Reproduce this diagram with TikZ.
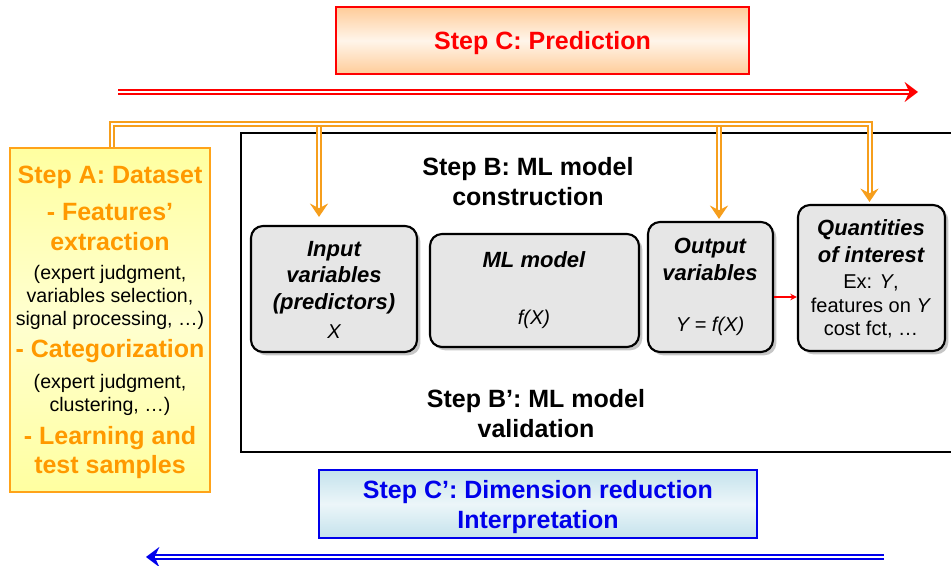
\documentclass[tikz,border=0pt]{standalone}
\usepackage{fontspec}
\setmainfont{Liberation Sans}
\usetikzlibrary{arrows.meta,shadows}
\definecolor{stepred}{RGB}{255,0,0}
\definecolor{peach}{RGB}{255,204,153}
\definecolor{peachlight}{RGB}{255,245,234}
\definecolor{stepblue}{RGB}{0,0,235}
\definecolor{iceblue}{RGB}{196,226,236}
\definecolor{icelight}{RGB}{236,246,249}
\definecolor{steporange}{RGB}{255,153,0}
\definecolor{lineorange}{RGB}{246,158,28}
\definecolor{paleyellow}{RGB}{255,255,160}
\definecolor{creamyellow}{RGB}{255,255,208}
\definecolor{boxgray}{RGB}{230,230,230}

\begin{document}
\begin{tikzpicture}[x=0.75pt, y=-0.75pt,
    bigfont/.style={font=\fontsize{18.75}{22.5}\selectfont\bfseries, align=center, inner sep=0pt},
    smallfont/.style={font=\fontsize{14.7}{17.6}\selectfont, align=center, inner sep=0pt},
    boxtitle/.style={font=\fontsize{16.5}{19.9}\selectfont\bfseries\itshape, align=center, inner sep=0pt},
    boxsub/.style={font=\fontsize{15}{17.6}\selectfont, align=center, inner sep=0pt},
    mlbox/.style={draw, line width=1.6pt, rounded corners=9pt, fill=boxgray, inner sep=0pt,
        drop shadow={shadow xshift=2.5pt, shadow yshift=-2.5pt, opacity=.45}},
    dblline/.style={double=white, double distance=1.5pt, line width=1.5pt}]
\useasboundingbox (0,0) rectangle (951,566);

% step C and C'
\node[draw=stepred, line width=1.6pt, top color=peach, bottom color=peach, middle color=peachlight,
    minimum width=309.75pt, minimum height=50.25pt, bigfont, text=stepred, text depth=0pt] (stepC) at (542.5,40.5) {Step C: Prediction};
\node[draw=stepblue, line width=1.6pt, top color=iceblue, bottom color=iceblue, middle color=icelight,
    minimum width=328.5pt, minimum height=51pt, bigfont, text=stepblue, text depth=0pt] (stepCp) at (538,504) {Step C’: Dimension reduction\\Interpretation};

\coordinate (redL) at (118,92);
\coordinate (redR) at (918,92);
\draw[dblline, draw=stepred, -{Stealth[length=10pt, width=15pt, inset=3.5pt]}] (redL) -- (redR);
\coordinate (blueR) at (884,557);
\coordinate (blueL) at (146,557);
\draw[dblline, draw=stepblue, -{Stealth[length=10pt, width=15pt, inset=3.5pt]}] (blueR) -- (blueL);

% step A
\node[draw=steporange!90, line width=1.6pt, top color=paleyellow, bottom color=paleyellow, middle color=creamyellow,
    minimum width=150pt, minimum height=258pt] (stepA) at (110,320) {};
\foreach \yy/\txt in {177/{Step A: Dataset}, 212/{- Features’}, 242/{extraction}, 351/{- Categorization}, 438/{- Learning and}, 467/{test samples}}
    \node[bigfont, text=steporange] (dsA\yy) at (110,\yy) {\txt};
\foreach \yy/\txt in {274/{(expert judgment,}, 297/{variables selection,}, 320/{signal processing, …)}, 383/{(expert judgment,}, 406/{clustering, …)}}
    \node[smallfont] (dsB\yy) at (110,\yy) {\txt};

% step B frame
\draw[line width=1.5pt] (952,133) -- (241,133) -- (241,452) -- (952,452);
\node[bigfont] (stepB) at (528,182) {Step B: ML model\\construction};
\node[bigfont] (stepBp) at (536,414) {Step B’: ML model\\validation};

% model boxes
\node[mlbox, minimum width=124.5pt, minimum height=94.5pt] (input) at (334,289) {};
\node[mlbox, minimum width=156.75pt, minimum height=84.75pt] (model) at (534.5,290.5) {};
\node[mlbox, minimum width=93.75pt, minimum height=97.5pt] (output) at (710.5,287) {};
\node[mlbox, minimum width=110.25pt, minimum height=109.5pt] (quant) at (871.5,278) {};

\node[boxtitle] (inT) at (334,277.5) {Input\\variables\\(predictors)};
\node[boxsub] (inS) at (334,332) {\itshape X};
\node[boxtitle] (mlT) at (534,260) {ML model};
\node[boxsub] (mlS) at (534,319.5) {\itshape f(X)};
\node[boxtitle] (outT) at (710,259.5) {Output\\variables};
\node[boxsub] (outS) at (710,326) {\itshape Y = f(X)};
\node[boxtitle] (qT) at (871,241) {Quantities\\of interest};
\node[boxsub] (qS) at (871,306.5) {Ex: \textit{Y},\\features on \textit{Y}\\cost fct, …};

\coordinate (ry) at (0,297);
\draw[stepred, line width=1.1pt, -{Stealth[length=5pt, width=5pt]}] (output.east |- ry) -- (quant.west |- ry);

% orange feed lines
\coordinate (busL) at (111.5,124);
\coordinate (busIn) at (319,124);
\coordinate (busOut) at (719,124);
\coordinate (busR) at (869.5,124);
\draw[dblline, draw=lineorange, -{Stealth[length=10pt, width=13.5pt, inset=3.5pt]}, shorten >=6pt] (busIn) -- (busIn |- input.north);
\draw[dblline, draw=lineorange, -{Stealth[length=10pt, width=13.5pt, inset=3.5pt]}, shorten >=1.5pt] (busOut) -- (busOut |- output.north);
\draw[dblline, draw=lineorange, -{Stealth[length=10pt, width=13.5pt, inset=3.5pt]}, shorten >=1.5pt] (stepA.north -| busL) -- (busL) -- (busR) -- (busR |- quant.north);
\end{tikzpicture}
\end{document}
